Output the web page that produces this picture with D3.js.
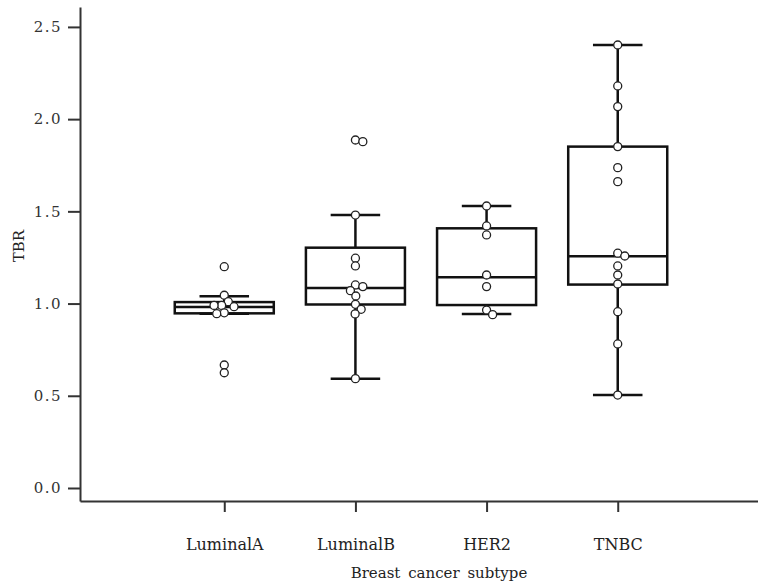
<!DOCTYPE html>
<html><head><meta charset="utf-8">
<script src="https://cdn.jsdelivr.net/npm/d3@7"></script>
<style>body{margin:0;background:#fff} svg{display:block}</style>
</head><body>
<svg id="c" width="758" height="585"></svg>
<script>
const categories = ["LuminalA", "LuminalB", "HER2", "TNBC"];
const q1 = [0.947, 0.995, 0.992, 1.103];
const median = [0.982, 1.085, 1.143, 1.256];
const q3 = [1.008, 1.303, 1.408, 1.851];
const whiskerLow = [0.945, 0.593, 0.944, 0.504];
const whiskerHigh = [1.040, 1.480, 1.529, 2.402];
const pointsLuminalA = [1.20, 1.045, 1.01, 0.99, 0.983, 0.99, 0.945, 0.95, 0.667, 0.625];
const pointsLuminalB = [1.887, 1.878, 1.48, 1.246, 1.204, 1.101, 1.092, 1.07, 1.041, 0.996, 0.969, 0.944, 0.593];
const pointsHER2 = [1.529, 1.421, 1.372, 1.155, 1.092, 0.965, 0.940];
const pointsTNBC = [2.402, 2.180, 2.068, 1.851, 1.737, 1.661, 1.273, 1.258, 1.204, 1.155, 1.106, 0.956, 0.781, 0.504];
const points = [pointsLuminalA, pointsLuminalB, pointsHER2, pointsTNBC];
const yTicks = [0, 0.5, 1.0, 1.5, 2.0, 2.5];
const yTickLabels = ["0.0", "0.5", "1.0", "1.5", "2.0", "2.5"];
const xTitle = "Breast cancer subtype";
const yTitle = "TBR";

const FONT = "'DejaVu Serif', 'Liberation Serif', serif";
const svg = d3.select("#c");
const x = d3.scalePoint().domain(categories).range([80, 762]).padding(1.1);
const y = d3.scaleLinear().domain([-0.0705, 2.608]).range([501, 7]);
const boxW = x.step() * 0.755;
const capW = boxW / 2;
const R = 4;

// axes
const gy = svg.append("g").attr("transform", "translate(80,0)")
  .call(d3.axisLeft(y).tickValues(yTicks).tickFormat((d, i) => yTickLabels[i]).tickSize(12).tickPadding(6).tickSizeOuter(0));
gy.select(".domain").attr("stroke", "#333").attr("stroke-width", 2);
gy.selectAll(".tick line").attr("stroke", "#333").attr("stroke-width", 2);
gy.selectAll(".tick text").attr("font-family", FONT).attr("font-size", 15).attr("fill", "#333").attr("letter-spacing", 1.5);

const gx = svg.append("g").attr("transform", "translate(0,501)")
  .call(d3.axisBottom(x).tickSize(11).tickPadding(27).tickSizeOuter(0));
gx.select(".domain").attr("stroke", "#333").attr("stroke-width", 2);
gx.selectAll(".tick line").attr("stroke", "#333").attr("stroke-width", 2);
gx.selectAll(".tick text").attr("font-family", FONT).attr("font-size", 16).attr("fill", "#222");

svg.append("text").attr("x", 439).attr("y", 578).attr("text-anchor", "middle")
  .attr("font-family", FONT).attr("font-size", 15).attr("fill", "#222").attr("word-spacing", 3).text(xTitle);
svg.append("text").attr("transform", "translate(24,246) rotate(-90)").attr("text-anchor", "middle")
  .attr("font-family", FONT).attr("font-size", 15).attr("fill", "#222").text(yTitle);

// boxes
const boxes = svg.append("g").attr("fill", "none").attr("stroke", "#111").attr("stroke-width", 2.5);
categories.forEach((c, i) => {
  const cx = x(c);
  const g = boxes.append("g");
  g.append("line").attr("x1", cx).attr("x2", cx).attr("y1", y(whiskerHigh[i])).attr("y2", y(q3[i]));
  g.append("line").attr("x1", cx).attr("x2", cx).attr("y1", y(q1[i])).attr("y2", y(whiskerLow[i]));
  g.append("line").attr("x1", cx - capW / 2).attr("x2", cx + capW / 2).attr("y1", y(whiskerHigh[i])).attr("y2", y(whiskerHigh[i]));
  g.append("line").attr("x1", cx - capW / 2).attr("x2", cx + capW / 2).attr("y1", y(whiskerLow[i])).attr("y2", y(whiskerLow[i]));
  g.append("rect").attr("x", cx - boxW / 2).attr("width", boxW).attr("y", y(q3[i])).attr("height", y(q1[i]) - y(q3[i]));
  g.append("line").attr("x1", cx - boxW / 2).attr("x2", cx + boxW / 2).attr("y1", y(median[i])).attr("y2", y(median[i]));
});

// swarm points
function swarm(vals, d) {
  const placed = [];
  const sorted = vals.map(v => ({ v, py: y(v) })).sort((a, b) => a.py - b.py);
  for (const p of sorted) {
    const near = placed.filter(q => Math.abs(q.py - p.py) < d);
    const cands = [0];
    near.forEach(q => {
      const dx = Math.sqrt(d * d - (q.py - p.py) ** 2);
      cands.push(q.dx + dx, q.dx - dx);
    });
    cands.sort((a, b) => Math.abs(a) - Math.abs(b) || b - a);
    p.dx = 0;
    for (const c of cands) {
      if (near.every(q => (q.dx - c) ** 2 + (q.py - p.py) ** 2 >= d * d - 1e-6)) { p.dx = c; break; }
    }
    placed.push(p);
  }
  return placed;
}
const pts = svg.append("g");
categories.forEach((c, i) => {
  const sw = swarm(points[i], 2 * R - 0.4);
  pts.selectAll(null).data(sw).join("circle")
    .attr("cx", d => x(c) + d.dx).attr("cy", d => d.py).attr("r", R)
    .attr("fill", "#fff").attr("stroke", "#222").attr("stroke-width", 1.3);
});
</script>
</body></html>
